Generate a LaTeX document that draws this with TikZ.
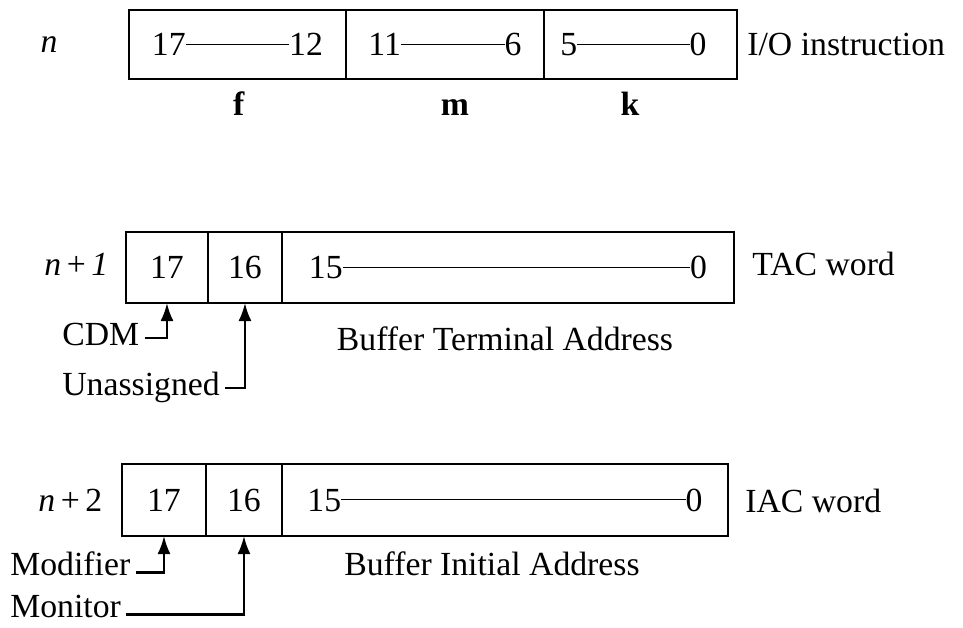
\documentclass[tikz,border=0pt]{standalone}
\usepackage{fontspec}
\setmainfont{Liberation Serif}
\usetikzlibrary{positioning,arrows.meta}

% bit range with a line between the two numbers
\newcommand{\bitrange}[3]{\makebox[#3]{#1\leaders\hrule height 0.355em depth -0.32em\hfill#2}}

\begin{document}
\begin{tikzpicture}[x=0.02cm, y=-0.02cm,
    field/.style={rectangle, draw, line width=1.3pt, outer sep=0pt, inner sep=0pt},
    txt/.style={inner sep=0pt, font=\fontsize{19.2}{23}\selectfont},
    tag/.style={txt, inner xsep=0.1cm, anchor=base west},
    pointer/.style={line width=1.3pt, -{Latex[length=0.36cm,width=0.26cm]}}]
  \useasboundingbox (0,0) rectangle (963,627);

  % I/O instruction
  \node (f) [field, minimum width=4.34cm, minimum height=1.38cm, anchor=west] at (129,44.5) {};
  \node (m) [field, minimum width=3.96cm, minimum height=1.38cm, right=0pt of f] {};
  \node (k) [field, minimum width=3.86cm, minimum height=1.38cm, right=0pt of m] {};
  \node (fbits) [txt] at (f) {\bitrange{17}{12}{3.42cm}};
  \node (mbits) [txt] at (m) {\bitrange{11}{6}{3.06cm}};
  \node (kbits) [txt, xshift=-0.14cm] at (k) {\bitrange{5}{0}{2.92cm}};
  \node (n0) [txt, anchor=base] at (49,52) {\textit{n}};
  \node (io) [txt, anchor=base west] at (747,55) {I/O instruction};
  \node (fname) [txt, anchor=base] at (239,115) {\textbf{f}};
  \node (mname) [txt, anchor=base] at (455,115) {\textbf{m}};
  \node (kname) [txt, anchor=base] at (630,115) {\textbf{k}};

  % TAC word
  \node (t17) [field, minimum width=1.64cm, minimum height=1.42cm, anchor=west] at (126,267.5) {};
  \node (t16) [field, minimum width=1.48cm, minimum height=1.42cm, right=0pt of t17] {};
  \node (tadr) [field, minimum width=9.04cm, minimum height=1.42cm, right=0pt of t16] {};
  \node [txt] at (t17) {17};
  \node [txt] at (t16) {16};
  \node (tbits) [txt] at (tadr) {\bitrange{15}{0}{7.96cm}};
  \node (n1) [txt, anchor=base west] at (44,275) {\textit{n}\,+\,\textit{1}};
  \node (tac) [txt, anchor=base west] at (752,275) {TAC word};
  \node (bta) [txt, anchor=base] at (505,350) {Buffer Terminal Address};
  \node (cdm) [tag] at (57,345) {CDM};
  \node (unas) [tag] at (57,395) {Unassigned};
  \draw[pointer] ([yshift=4pt]cdm.base east) -| (t17.south);
  \draw[pointer] ([yshift=4pt]unas.base east) -| (t16.south);

  % IAC word
  \node (i17) [field, minimum width=1.68cm, minimum height=1.44cm, anchor=west] at (122,500) {};
  \node (i16) [field, minimum width=1.52cm, minimum height=1.44cm, right=0pt of i17] {};
  \node (iadr) [field, minimum width=8.92cm, minimum height=1.44cm, right=0pt of i16] {};
  \node [txt] at (i17) {17};
  \node [txt] at (i16) {16};
  \node (ibits) [txt] at (iadr) {\bitrange{15}{0}{7.9cm}};
  \node (n2) [txt, anchor=base west] at (38,511) {\textit{n}\,+\,2};
  \node (iac) [txt, anchor=base west] at (745,512) {IAC word};
  \node (bia) [txt, anchor=base] at (492,575) {Buffer Initial Address};
  \node (modi) [tag] at (5,575) {Modifier};
  \node (moni) [tag] at (5,617) {Monitor};
  \draw[pointer] ([yshift=1.5pt]modi.base east) -| (i17.south);
  \draw[pointer] ([yshift=1.5pt]moni.base east) -| (i16.south);
\end{tikzpicture}
\end{document}
